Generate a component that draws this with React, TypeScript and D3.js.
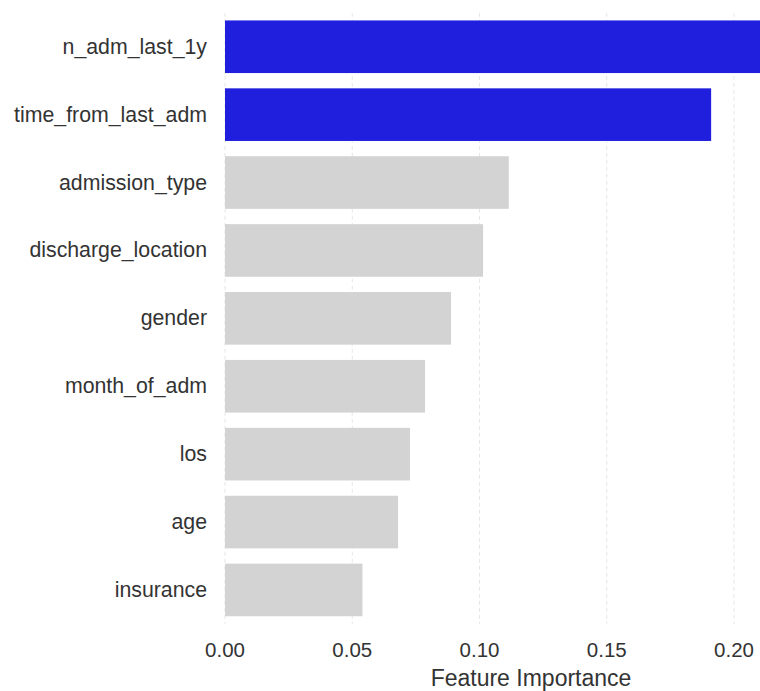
import React from "react";
import * as d3 from "d3";

const features = [
  "n_adm_last_1y",
  "time_from_last_adm",
  "admission_type",
  "discharge_location",
  "gender",
  "month_of_adm",
  "los",
  "age",
  "insurance",
];
const importance = [0.225, 0.191, 0.1115, 0.1014, 0.0888, 0.0786, 0.0727, 0.068, 0.054];
const highlighted = ["n_adm_last_1y", "time_from_last_adm"];
const xTicks = [0, 0.05, 0.1, 0.15, 0.2];
const xLabel = "Feature Importance";

const W = 760;
const H = 691;
const left = 225;
const right = 760;
const top = 12.8;
const bottom = 623.9;

export default function App() {
  const x = d3.scaleLinear().domain([0, 0.2102]).range([left, right]);
  const y = d3
    .scaleBand<string>()
    .domain(features)
    .range([top, bottom])
    .paddingInner(0.225)
    .paddingOuter(0.1125);
  const font = "'Liberation Sans', Arial, sans-serif";
  return (
    <svg
      width={W}
      height={H}
      style={{ position: "absolute", left: 0, top: 0, background: "#fff" }}
      fontFamily={font}
    >
      {xTicks.map((t) => (
        <line
          key={"g" + t}
          x1={x(t)}
          x2={x(t)}
          y1={top}
          y2={bottom}
          stroke="#e6e6e6"
          strokeWidth={1}
          strokeDasharray="4,3"
        />
      ))}
      {features.map((f, i) => (
        <rect
          key={f}
          x={x(0)}
          y={y(f)}
          width={x(importance[i]) - x(0)}
          height={y.bandwidth()}
          fill={highlighted.includes(f) ? "#1f1fdd" : "#d3d3d3"}
        />
      ))}
      {features.map((f) => (
        <text
          key={"l" + f}
          x={207}
          y={(y(f) as number) + y.bandwidth() / 2}
          textAnchor="end"
          dominantBaseline="central"
          fontSize={21.3}
          fill="#333"
        >
          {f}
        </text>
      ))}
      {xTicks.map((t) => (
        <text
          key={"t" + t}
          x={x(t)}
          y={649}
          textAnchor="middle"
          dominantBaseline="central"
          fontSize={20.5}
          fill="#333"
        >
          {d3.format(".2f")(t)}
        </text>
      ))}
      <text
        x={531}
        y={678}
        textAnchor="middle"
        dominantBaseline="central"
        fontSize={23}
        fill="#333"
      >
        {xLabel}
      </text>
    </svg>
  );
}
